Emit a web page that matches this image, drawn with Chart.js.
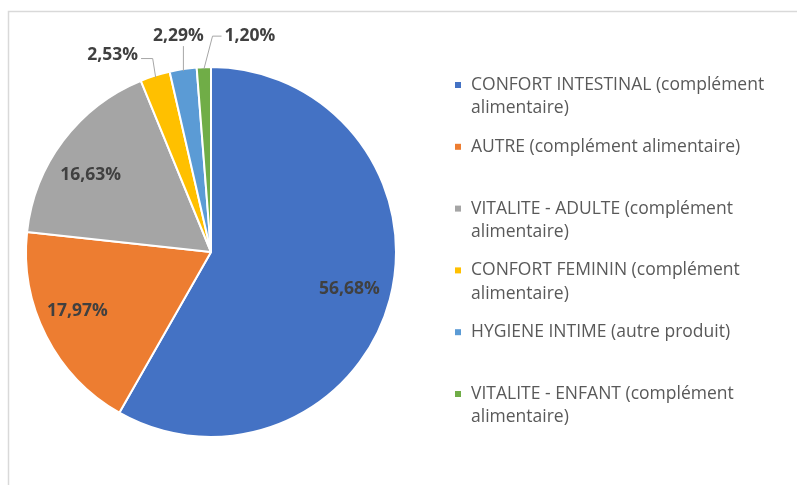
<!DOCTYPE html>
<html>
<head>
<meta charset="utf-8">
<script src="https://cdn.jsdelivr.net/npm/chart.js@4"></script>
<style>
  html, body { margin: 0; padding: 0; background: #fff; }
  #wrap { position: relative; width: 797px; height: 485px; }
</style>
</head>
<body>
<div id="wrap"><canvas id="pieChart" width="797" height="485"></canvas></div>
<script>
// categories (legend lines) and values in %
const categories = [
  ['CONFORT INTESTINAL (complément', 'alimentaire)'],
  ['AUTRE (complément alimentaire)'],
  ['VITALITE - ADULTE (complément', 'alimentaire)'],
  ['CONFORT FEMININ (complément', 'alimentaire)'],
  ['HYGIENE INTIME (autre produit)'],
  ['VITALITE - ENFANT (complément', 'alimentaire)']
];
const shares = [56.68, 17.97, 16.63, 2.53, 2.29, 1.20];
const sliceColors = ['#4472C4', '#ED7D31', '#A5A5A5', '#FFC000', '#5B9BD5', '#70AD47'];

// label placement tweaks: inside nudge / outside offset from arc edge
const insideNudge = [[-1, 0], [-5, -7], [-5, 10]];
const outsideOffset = [null, null, null, [-43, -23], [-5, -35], [46, -33]];

const fmt = v => v.toFixed(2).replace('.', ',') + '%';

// light frame around the chart (goes off right/bottom like the source crop)
const framePlugin = {
  id: 'frame',
  beforeDraw(chart) {
    const ctx = chart.ctx;
    ctx.save();
    ctx.strokeStyle = '#d9d9d9';
    ctx.lineWidth = 1.5;
    ctx.beginPath();
    ctx.moveTo(8.5, chart.height);
    ctx.lineTo(8.5, 11.5);
    ctx.lineTo(chart.width, 11.5);
    ctx.stroke();
    ctx.restore();
  }
};

// percent labels on / beside the slices
const sliceLabels = {
  id: 'sliceLabels',
  afterDatasetsDraw(chart) {
    const ctx = chart.ctx;
    const arcs = chart.getDatasetMeta(0).data;
    ctx.save();
    ctx.font = 'bold 17.5px "Open Sans", sans-serif';
    ctx.fillStyle = '#404040';
    ctx.textBaseline = 'middle';
    arcs.forEach((arc, i) => {
      const mid = (arc.startAngle + arc.endAngle) / 2;
      const txt = fmt(shares[i]);
      const off = outsideOffset[i];
      if (!off) {
        const r = arc.outerRadius * 0.78;
        const n = insideNudge[i] || [0, 0];
        ctx.textAlign = 'center';
        ctx.fillText(txt, arc.x + Math.cos(mid) * r + n[0], arc.y + Math.sin(mid) * r + n[1]);
        return;
      }
      const ex = arc.x + Math.cos(mid) * (arc.outerRadius - 2);
      const ey = arc.y + Math.sin(mid) * (arc.outerRadius - 2);
      const lx = ex + off[0], ly = ey + off[1];
      const w = ctx.measureText(txt).width;
      ctx.textAlign = 'center';
      ctx.fillText(txt, lx, ly);
      ctx.strokeStyle = '#a6a6a6';
      ctx.lineWidth = 1;
      ctx.beginPath();
      if (off[0] < -20) {
        // elbow: down from label's right side
        ctx.moveTo(lx + w / 2 + 3, ly + 4);
        ctx.lineTo(ex - 3, ly + 4);
        ctx.lineTo(ex, ey);
      } else if (off[0] > 20) {
        ctx.moveTo(lx - w / 2 - 3, ly);
        ctx.lineTo(lx - w / 2 - 12, ly);
        ctx.lineTo(ex, ey);
      } else {
        ctx.moveTo(ex, ly + 10);
        ctx.lineTo(ex, ey);
      }
      ctx.stroke();
    });
    ctx.restore();
  }
};

// right side legend with wrapped lines
const sideLegend = {
  id: 'sideLegend',
  afterDraw(chart) {
    const ctx = chart.ctx;
    const x0 = 455, y0 = 85, step = 61.8, lineH = 23.5;
    ctx.save();
    ctx.font = '17.5px "Open Sans", sans-serif';
    ctx.textBaseline = 'middle';
    ctx.textAlign = 'left';
    chart.data.labels.forEach((lines, i) => {
      const y = y0 + i * step;
      ctx.fillStyle = sliceColors[i];
      ctx.fillRect(x0, y - 3, 6, 6);
      ctx.fillStyle = '#595959';
      lines.forEach((ln, k) => ctx.fillText(ln, x0 + 16, y + k * lineH));
    });
    ctx.restore();
  }
};

new Chart(document.getElementById('pieChart'), {
  type: 'pie',
  data: {
    labels: categories,
    datasets: [{
      data: shares,
      backgroundColor: sliceColors,
      borderColor: '#ffffff',
      borderWidth: 2
    }]
  },
  options: {
    responsive: false,
    animation: false,
    layout: { padding: { left: 25, right: 400, top: 66, bottom: 47 } },
    plugins: {
      legend: { display: false },
      tooltip: { enabled: false }
    }
  },
  plugins: [framePlugin, sliceLabels, sideLegend]
});
</script>
</body>
</html>
